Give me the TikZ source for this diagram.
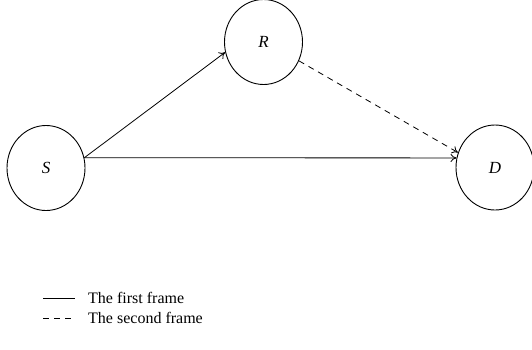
\documentclass[tikz,border=0pt]{standalone}
\usepackage{fontspec}
\setmainfont{Liberation Serif}
\usetikzlibrary{shapes.geometric,arrows.meta}
\begin{document}
\begin{tikzpicture}[x=1pt,y=-1pt,
  station/.style={draw,ellipse,line width=0.9pt,minimum width=78pt,minimum height=85pt,inner sep=0pt,font=\fontsize{17}{19}\selectfont\itshape},
  link/.style={line width=0.8pt,-{To[length=6pt,width=8pt]}},
  legendtext/.style={anchor=west,inner sep=0pt,font=\fontsize{16}{18}\selectfont}]
\useasboundingbox (0,0) rectangle (532,349);
\node[station] (S) at (46,168) {S};
\node[station] (R) at (263.5,42) {R};
\node[station] (D) at (495,167.5) {D};
\draw[link] (S.15) -- (R.195);
\draw[link] (S.15) -- (D.166);
\draw[link,dashed,dash pattern=on 6pt off 5pt] (R.-28) -- (D.158);
\coordinate (l1a) at (43,298);
\coordinate (l1b) at (75,298);
\coordinate (l2a) at (43,318);
\coordinate (l2b) at (75,318);
\draw[line width=0.8pt] (l1a) -- (l1b);
\draw[line width=0.8pt,dash pattern=on 6pt off 5pt] (l2a) -- (l2b);
\node[legendtext] (t1) at (88,298) {The first frame};
\node[legendtext] (t2) at (88,318) {The second frame};
\end{tikzpicture}
\end{document}
